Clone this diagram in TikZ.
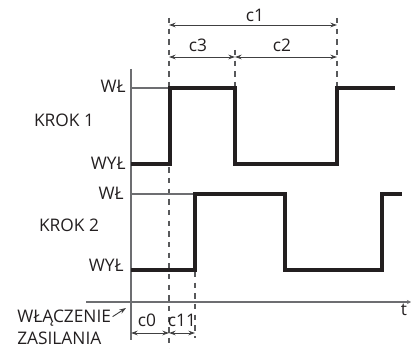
\documentclass[tikz,border=0pt]{standalone}
\usepackage{fontspec}
\setmainfont{Open Sans}
\usetikzlibrary{arrows.meta,positioning}
\definecolor{colorInk}{HTML}{231F20}
\definecolor{colorAxis}{HTML}{6D6E71}
\definecolor{colorGuide}{HTML}{58595B}
\definecolor{colorSpan}{HTML}{404041}
\def\colorInk{colorInk}
\def\colorAxis{colorAxis}
\def\colorGuide{colorGuide}
\def\colorSpan{colorSpan}

\begin{document}
\begin{tikzpicture}[x=0.75pt,y=-0.75pt,
  every node/.style={font=\fontsize{13}{16}\selectfont, text=\colorInk, inner sep=0pt},
  signal/.style={line width=2.6pt, color=\colorInk, line join=miter},
  level/.style={line width=0.8pt, color=\colorAxis},
  guide/.style={dash pattern=on 4pt off 4pt, line width=0.8pt, color=\colorGuide},
  dimline/.style={{Stealth[length=5pt,width=3.5pt]}-{Stealth[length=5pt,width=3.5pt]},
    line width=0.7pt, color=\colorSpan}
  ]
\useasboundingbox (0,0) rectangle (411,349);

% Les axes
\coordinate (zero) at (131,302);
\draw[level] (131,69) -- (131,340);
\draw[level, -{Stealth[length=3pt,width=3pt]}] (86,302) -- (411,302);
\node (tlabel) at (404,310) {t};

% Les lignes pointillées
\draw[guide] (169,18) -- (169,349);
\draw[guide] (195,272) -- (195,338);
\draw[guide] (235,50) -- (235,88);
\draw[guide] (337,18) -- (337,88);

% Les niveaux WŁ / WYŁ
\draw[level] (131,88) -- (170,88);
\draw[level] (131,194) -- (195,194);
\node[anchor=east] (on1) at (126,86) {WŁ};
\node[anchor=east] (off1) at (126,163.5) {WYŁ};
\node[anchor=east] (on2) at (124,193) {WŁ};
\node[anchor=east] (off2) at (124,265) {WYŁ};
\node (step1) at (64,120.5) {KROK 1};
\node (step2) at (69,225) {KROK 2};

% Signal KROK 1
\draw[signal] (131,164) -- (170,164) -- (170,88) -- (235,88) -- (235,164)
  -- (337,164) -- (337,88) -- (395,88);

% Signal KROK 2
\draw[signal] (131,270) -- (195,270) -- (195,194) -- (285,194) -- (285,270)
  -- (382,270) -- (382,194) -- (402,194);

% Les cotes
\coordinate (c1a) at (169,25);
\coordinate (c1b) at (337,25);
\coordinate (c3a) at (169,57);
\coordinate (c3b) at (235,57);
\coordinate (c2b) at (337,57);
\coordinate (c0a) at (131,333);
\coordinate (c0b) at (169,333);
\coordinate (c11b) at (195,333);
\draw[dimline] (c1a) -- (c1b);
\draw[dimline] (c3a) -- (c3b);
\draw[dimline] (c3b) -- (c2b);
\draw[dimline] (c0a) -- (c0b);
\draw[dimline] (c0b) -- (c11b);
\node (c1) at (255,15) {c1};
\node (c3) at (198,45) {c3};
\node (c2) at (282,45) {c2};
\node (c0) at (147,320) {c0};
\node (c11) at (182,320) {c11};

% Mise sous tension
\node[anchor=north west, align=left] (power) at (17,310) {WŁĄCZENIE\\ZASILANIA};
\coordinate (onset) at (126,308);
\draw[\colorSpan, line width=0.7pt, -{Stealth[length=5pt,width=3.5pt]}]
  ([xshift=1pt,yshift=-5pt]power.north east) -- (onset);

\end{tikzpicture}
\end{document}
